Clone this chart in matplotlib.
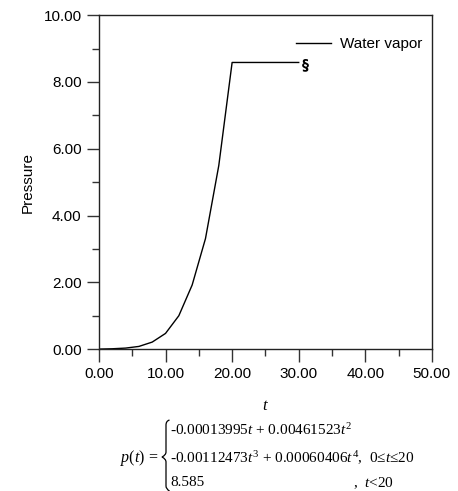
import numpy as np
import matplotlib.pyplot as plt
from matplotlib.ticker import MultipleLocator, FormatStrFormatter
from matplotlib.path import Path
from matplotlib.patches import PathPatch

plt.rcParams['font.family'] = 'Liberation Sans'
plt.rcParams['mathtext.fontset'] = 'custom'
plt.rcParams['mathtext.rm'] = 'Liberation Serif'
plt.rcParams['mathtext.it'] = 'Liberation Serif:italic'

t = [0, 2, 4, 6, 8, 10, 12, 14, 16, 18, 20, 22, 24, 26, 28, 30]
pressure = [0.0, 0.01, 0.03, 0.08, 0.21, 0.47, 1.0, 1.92, 3.31, 5.5, 8.585,
            8.585, 8.585, 8.585, 8.585, 8.585]

W, H = 458, 491
fig = plt.figure(figsize=(W / 100, H / 100), dpi=100)
ax = fig.add_axes([0.216, 0.289, 0.727, 0.680])

ax.plot(t, pressure, color='black', lw=1.0, label='Water vapor')
ax.annotate('§', xy=(t[-1], pressure[-1]), xytext=(4.5, -1), textcoords='offset points',
            ha='center', va='center', fontsize=10, fontweight='bold',
            family='DejaVu Sans')

ax.set_xlim(0, 50)
ax.set_ylim(0, 10)
ax.xaxis.set_major_locator(MultipleLocator(10))
ax.xaxis.set_minor_locator(MultipleLocator(5))
ax.yaxis.set_major_locator(MultipleLocator(2))
ax.yaxis.set_minor_locator(MultipleLocator(1))
ax.xaxis.set_major_formatter(FormatStrFormatter('%.2f'))
ax.yaxis.set_major_formatter(FormatStrFormatter('%.2f'))
ax.tick_params(which='major', direction='out', length=9, width=1, labelsize=11, color='#333333')
ax.tick_params(which='minor', direction='out', length=5, width=1, color='#333333')
ax.tick_params(axis='x', pad=4)
for s in ax.spines.values():
    s.set_linewidth(1)
    s.set_color('#222222')

ax.set_ylabel('Pressure', fontsize=11, labelpad=6)
ax.set_xlabel('$t$', fontsize=12, labelpad=12)

leg = ax.legend(loc='upper right', frameon=False, fontsize=11, handlelength=2.3,
                bbox_to_anchor=(1.0, 0.962), borderaxespad=0.2, handletextpad=0.6)

# formula below the chart
serif = 'Liberation Serif'
fig.text(120 / W, 1 - 458 / H, '$p(t)$ =', fontsize=11.5, ha='left', va='center', family=serif)
fig.text(170 / W, 1 - 430 / H, r'-0.00013995$t$ + 0.00461523$t^2$', fontsize=11,
         ha='left', va='center', family=serif)
fig.text(170 / W, 1 - 458 / H, r'-0.00112473$t^3$ + 0.00060406$t^4$,  0≤$t$≤20', fontsize=11,
         ha='left', va='center', family=serif)
fig.text(170 / W, 1 - 483 / H, '8.585', fontsize=11, ha='left', va='center', family=serif)
fig.text(353 / W, 1 - 483 / H, ',  $t$<20', fontsize=11, ha='left', va='center', family=serif)

# curly brace
bx = [169.5, 166, 166, 166, 166, 166, 162, 166, 166, 166, 166, 166, 169.5]
by = [420, 421, 425, 440, 452, 455, 457, 459, 462, 474, 486, 489, 491]
codes = [Path.MOVETO, Path.CURVE3, Path.CURVE3, Path.LINETO, Path.LINETO,
         Path.CURVE3, Path.CURVE3, Path.CURVE3, Path.CURVE3,
         Path.LINETO, Path.LINETO, Path.CURVE3, Path.CURVE3]
verts = [(x / W, 1 - y / H) for x, y in zip(bx, by)]
fig.patches.append(PathPatch(Path(verts, codes), transform=fig.transFigure,
                             fill=False, lw=0.9, color='black'))

fig.savefig('out.png', dpi=100)
